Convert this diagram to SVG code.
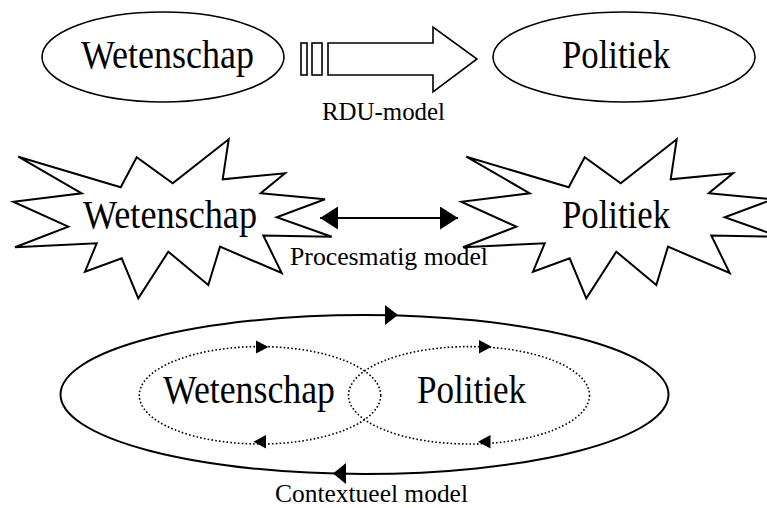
<svg xmlns="http://www.w3.org/2000/svg" width="767" height="508" viewBox="0 0 767 508">
<defs>
<style>
.big{font-family:"Liberation Serif","Times New Roman",serif;font-size:40px;fill:#000}
.lbl{font-family:"Liberation Serif","Times New Roman",serif;font-size:26px;fill:#000}
.shape{fill:#fff;stroke:#000;stroke-width:1.6}
.star{fill:#fff;stroke:#000;stroke-width:2;stroke-linejoin:miter}
.dot{fill:none;stroke:#000;stroke-width:1.6;stroke-dasharray:1.6 2.2}
.cyc{fill:none;stroke:#000;stroke-width:2}
.head{fill:#000;stroke:none}
</style>
<marker id="ah" viewBox="0 0 18 23" refX="18" refY="11.5" markerWidth="18" markerHeight="23" markerUnits="userSpaceOnUse" orient="auto-start-reverse">
<path d="M0,0 L18,11.5 L0,23 Z" fill="#000"/>
</marker>
<polygon id="starShape" points="18.3,156.7 120.7,187.3 136.7,157.3 172.7,183.3 228.7,139.3 222.7,179.3 285,173.3 260.7,193.3 325,199.3 276.7,217.3 331.7,236.7 263.3,235.5 281.7,273 220,246.7 208.3,285 168.3,251.7 138.3,298.3 121.7,258.3 85,271.7 96.7,243.3 15,247.3 68.3,226.7 13.3,201.7 81.7,193.3"/>
</defs>
<rect width="767" height="508" fill="#fff"/>

<!-- RDU model -->
<g id="rdu-wetenschap">
<ellipse class="shape" cx="163" cy="57" rx="121" ry="45"/>
<text class="big" x="81" y="68" textLength="173" lengthAdjust="spacingAndGlyphs">Wetenschap</text>
</g>
<g id="rdu-politiek">
<ellipse class="shape" cx="624" cy="57" rx="131" ry="45"/>
<text class="big" x="562" y="68" textLength="108" lengthAdjust="spacingAndGlyphs">Politiek</text>
</g>

<!-- Procesmatig model -->
<g id="proc-wetenschap">
<use href="#starShape" class="star"/>
<text class="big" x="83" y="228" textLength="174" lengthAdjust="spacingAndGlyphs">Wetenschap</text>
</g>
<g id="proc-politiek">
<use href="#starShape" class="star" transform="translate(448,0)"/>
<text class="big" x="562" y="228" textLength="108" lengthAdjust="spacingAndGlyphs">Politiek</text>
</g>

<!-- Contextueel model -->
<g id="ctx-context">
<ellipse class="cyc" cx="364.5" cy="394.5" rx="304" ry="79.5"/>
</g>
<g id="ctx-wetenschap">
<ellipse class="dot" cx="260" cy="395.3" rx="120.7" ry="48.7"/>
<text class="big" x="163" y="403" textLength="172" lengthAdjust="spacingAndGlyphs">Wetenschap</text>
</g>
<g id="ctx-politiek">
<ellipse class="dot" cx="469" cy="395.3" rx="120.5" ry="48.7"/>
<text class="big" x="417" y="403" textLength="109" lengthAdjust="spacingAndGlyphs">Politiek</text>
</g>

<g id="connectors">
<!-- RDU block arrow -->
<rect class="shape" x="301" y="43" width="6" height="32"/>
<rect class="shape" x="312" y="43" width="10" height="32"/>
<path class="shape" d="M328,43 H433 V27 L477,59 L433,92 V75 H328 Z"/>
<!-- double arrow -->
<line x1="320" y1="218" x2="458" y2="218" stroke="#000" stroke-width="2" marker-start="url(#ah)" marker-end="url(#ah)"/>
<!-- outer cycle arrowheads -->
<polygon class="head" points="385,305 398,315 385,325"/>
<polygon class="head" points="346,463 333,473.5 346,484"/>
<!-- inner cycle arrowheads -->
<polygon class="head" points="256,340.5 268.5,347 256,353.5"/>
<polygon class="head" points="266,435 253.5,441.7 266,448.4"/>
<polygon class="head" points="479,340 491.7,346.7 479,353.4"/>
<polygon class="head" points="490.5,435 478,441.7 490.5,448.4"/>
</g>

<g id="labels">
<text class="lbl" x="322" y="120" textLength="123" lengthAdjust="spacingAndGlyphs">RDU-model</text>
<text class="lbl" x="290" y="265" textLength="198" lengthAdjust="spacingAndGlyphs">Procesmatig model</text>
<text class="lbl" x="275" y="502" textLength="193" lengthAdjust="spacingAndGlyphs">Contextueel model</text>
</g>
</svg>
